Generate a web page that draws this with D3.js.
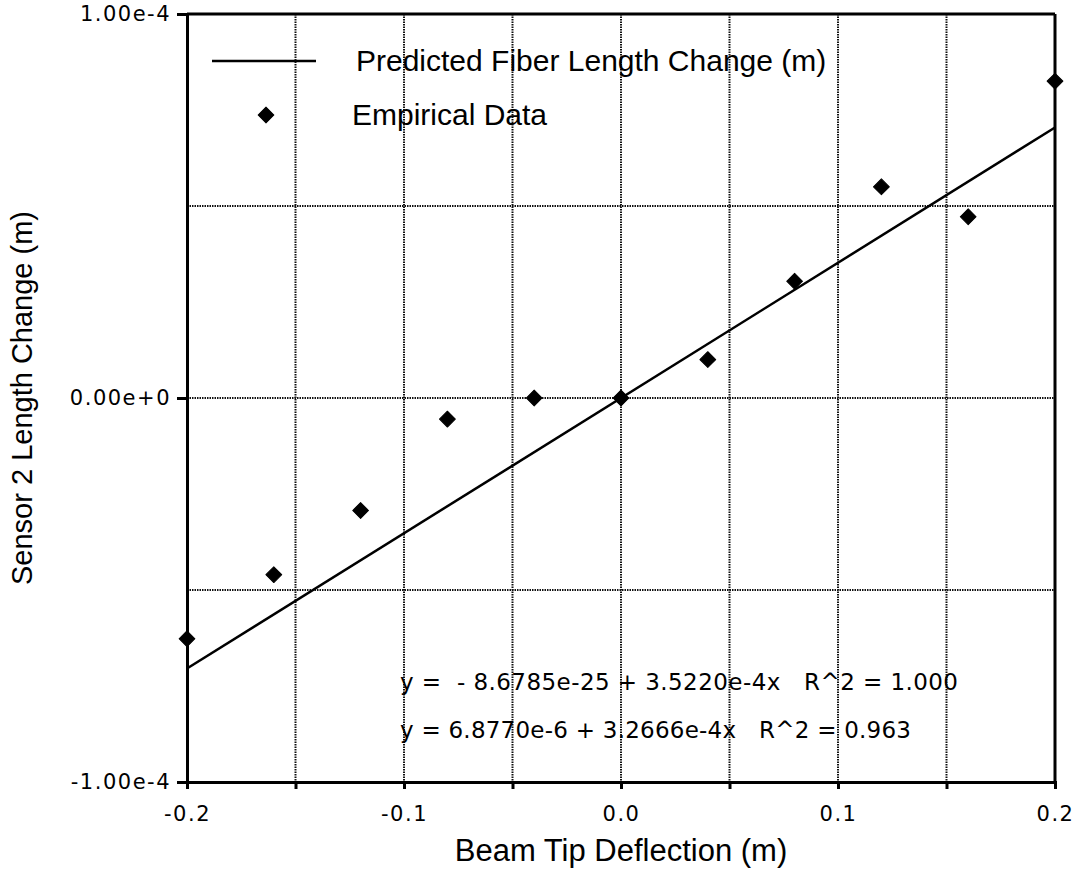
<!DOCTYPE html>
<html>
<head>
<meta charset="utf-8">
<script src="https://cdn.jsdelivr.net/npm/d3@7"></script>
<style>
body { margin: 0; background: #fff; }
</style>
</head>
<body>
<div id="chart"></div>
<script>
var width = 1081;
var height = 873;

var margin = {top: 14, right: 26, bottom: 91, left: 187}

// measured deflection (m) and sensor 2 length change (m)
var deflection = [-0.2, -0.16, -0.12, -0.08, -0.04, 0, 0.04, 0.08, 0.12, 0.16, 0.2]
var lengthChange = [-6.27e-5, -4.6e-5, -2.93e-5, -0.55e-5, 0, 0, 1.0e-5, 3.04e-5, 5.5e-5, 4.72e-5, 8.25e-5]

// predicted fiber line
var predictedX = [-0.2, 0.2]
var predictedY = [-7.044e-5, 7.044e-5]

var xTicks = [-0.2, -0.15, -0.1, -0.05, 0, 0.05, 0.1, 0.15, 0.2]
var xTickLabels = ["-0.2", "", "-0.1", "", "0.0", "", "0.1", "", "0.2"]
var yTicks = [-1e-4, -5e-5, 0, 5e-5, 1e-4]
var yTickLabels = ["-1.00e-4", "", "0.00e+0", "", "1.00e-4"]

var equations = [
  "y =  - 8.6785e-25 + 3.5220e-4x   R^2 = 1.000",
  "y = 6.8770e-6 + 3.2666e-4x   R^2 = 0.963"
]
var equationWidths = [558, 511]

var w = width - margin.left - margin.right
var h = height - margin.top - margin.bottom

var svg = d3.select("#chart").append("svg")
  .attr("width", width)
  .attr("height", height)

var g = svg.append("g")
  .attr("transform", "translate(" + margin.left + "," + margin.top + ")")

var x = d3.scaleLinear().domain([-0.2, 0.2]).range([0, w])
var y = d3.scaleLinear().domain([-1e-4, 1e-4]).range([h, 0])

var tickFont = "'DejaVu Sans', sans-serif"
var labelFont = "'Liberation Sans', Arial, sans-serif"

// grid
g.selectAll(".vgrid")
  .data(xTicks.slice(1, -1))
  .enter().append("line")
  .attr("x1", d => x(d)).attr("x2", d => x(d))
  .attr("y1", 0).attr("y2", h)
  .attr("stroke", "#111")
  .attr("stroke-width", 2)
  .attr("stroke-dasharray", "1.5,1")

g.selectAll(".hgrid")
  .data(yTicks.slice(1, -1))
  .enter().append("line")
  .attr("y1", d => y(d)).attr("y2", d => y(d))
  .attr("x1", 0).attr("x2", w)
  .attr("stroke", "#111")
  .attr("stroke-width", 2)
  .attr("stroke-dasharray", "1.5,1")

// axes
var xAxis = d3.axisBottom(x)
  .tickValues(xTicks)
  .tickSize(7)
  .tickPadding(17)
  .tickFormat((d, i) => xTickLabels[i])

var yAxis = d3.axisLeft(y)
  .tickValues(yTicks)
  .tickSize(10)
  .tickPadding(6)
  .tickFormat((d, i) => yTickLabels[i])

var gx = g.append("g")
  .attr("transform", "translate(0," + h + ")")
  .call(xAxis)
var gy = g.append("g").call(yAxis)

;[gx, gy].forEach(a => {
  a.attr("font-family", tickFont).attr("font-size", 21)
  a.select(".domain").attr("stroke", "#000").attr("stroke-width", 3)
  a.selectAll(".tick line").attr("stroke", "#000").attr("stroke-width", 3)
  a.selectAll(".tick text")
    .attr("fill", "#000")
    .attr("letter-spacing", "1.5px")
})
gy.selectAll(".tick").filter((d, i) => yTickLabels[i] === "").select("line").remove()

// frame top / right
g.append("line").attr("x1", 0).attr("x2", w).attr("y1", 0).attr("y2", 0)
  .attr("stroke", "#000").attr("stroke-width", 3)
g.append("line").attr("x1", w).attr("x2", w).attr("y1", 0).attr("y2", h)
  .attr("stroke", "#000").attr("stroke-width", 3)

// predicted line
var line = d3.line()
  .x((d, i) => x(predictedX[i]))
  .y(d => y(d))

g.append("path")
  .datum(predictedY)
  .attr("d", line)
  .attr("fill", "none")
  .attr("stroke", "#000")
  .attr("stroke-width", 2.5)

// empirical points
var diamond = d3.symbol().type(d3.symbolSquare).size(125)

g.selectAll(".pt")
  .data(deflection)
  .enter().append("path")
  .attr("d", diamond)
  .attr("transform", (d, i) => "translate(" + x(d) + "," + y(lengthChange[i]) + ") rotate(45)")
  .attr("fill", "#000")
  .attr("stroke", "#000")
  .attr("stroke-width", 1)
  .attr("stroke-linejoin", "round")

// legend
var legend = svg.append("g")
legend.append("line")
  .attr("x1", 212).attr("x2", 316).attr("y1", 61).attr("y2", 61)
  .attr("stroke", "#000").attr("stroke-width", 2.5)
legend.append("text")
  .attr("x", 356).attr("y", 71)
  .style("font-family", labelFont).style("font-size", "30px")
  .text("Predicted Fiber Length Change (m)")
legend.append("path")
  .attr("d", diamond)
  .attr("transform", "translate(266,115) rotate(45)")
  .attr("stroke", "#000")
  .attr("stroke-width", 1)
  .attr("stroke-linejoin", "round")
legend.append("text")
  .attr("x", 352).attr("y", 125)
  .style("font-family", labelFont).style("font-size", "30px")
  .text("Empirical Data")

// equations
svg.selectAll(".eq")
  .data(equations)
  .enter().append("text")
  .attr("x", 400)
  .attr("y", (d, i) => 690 + i * 48)
  .style("font-family", tickFont)
  .style("font-size", "23px")
  .attr("textLength", (d, i) => equationWidths[i])
  .attr("lengthAdjust", "spacing")
  .attr("xml:space", "preserve")
  .text(d => d)

// axis titles
svg.append("text")
  .attr("x", margin.left + w / 2)
  .attr("y", 861)
  .attr("text-anchor", "middle")
  .style("font-family", labelFont).style("font-size", "31px")
  .text("Beam Tip Deflection (m)")

svg.append("text")
  .attr("transform", "translate(32," + (margin.top + h / 2) + ") rotate(-90)")
  .attr("text-anchor", "middle")
  .style("font-family", labelFont).style("font-size", "29px")
  .text("Sensor 2 Length Change (m)")
</script>
</body>
</html>
